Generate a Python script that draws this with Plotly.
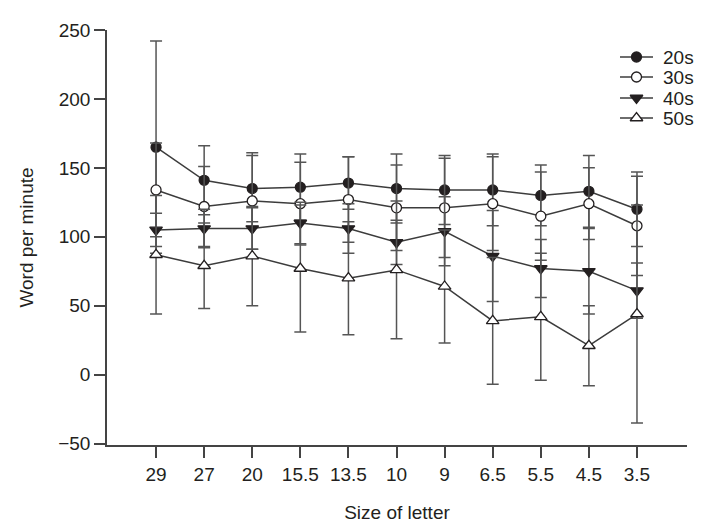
import plotly.graph_objects as go

categories = ["29", "27", "20", "15.5", "13.5", "10", "9", "6.5", "5.5", "4.5", "3.5"]
series_names = ["20s", "30s", "40s", "50s"]

mean_20s = [165, 141, 135, 136, 139, 135, 134, 134, 130, 133, 120]
sd_20s = [77, 25, 24, 24, 19, 25, 25, 26, 22, 26, 27]
mean_30s = [134, 122, 126, 124, 127, 121, 121, 124, 115, 124, 108]
sd_30s = [34, 29, 35, 30, 31, 31, 36, 34, 32, 26, 36]
mean_40s = [105, 106, 106, 110, 106, 96, 104, 86, 77, 75, 61]
sd_40s = [12, 14, 15, 15, 18, 16, 25, 33, 21, 31, 20]
mean_50s = [87, 79, 86, 77, 70, 76, 64, 39, 42, 21, 44]
sd_50s = [43, 31, 36, 46, 41, 50, 41, 46, 46, 29, 79]

y_ticks = [-50, 0, 50, 100, 150, 200, 250]

dark = "#231f20"
line_col = "#3c3c3c"
err_col = "#555555"
axis_col = "#444444"
font_family = "Liberation Sans, Arial, sans-serif"
FS = 19

styles = [
    dict(symbol="circle", color=dark, size=10),
    dict(symbol="circle", color="white", size=10),
    dict(symbol="triangle-down", color=dark, size=11),
    dict(symbol="triangle-up", color="white", size=11),
]
means = [mean_20s, mean_30s, mean_40s, mean_50s]
sds = [sd_20s, sd_30s, sd_40s, sd_50s]

fig = go.Figure()
for name, m, s, st in zip(series_names, means, sds, styles):
    fig.add_trace(go.Scatter(
        x=categories, y=m, name=name, mode="lines+markers", showlegend=False,
        line=dict(color=line_col, width=1.5),
        marker=dict(symbol=st["symbol"], size=st["size"], color=st["color"],
                    line=dict(color=dark, width=1.3)),
        error_y=dict(type="data", array=s, visible=True, color=err_col,
                     thickness=1.5, width=6),
    ))

# page body has an 8px default margin; compensate so the page matches 713x531
PAGE_W, PAGE_H, BODY = 713, 531, 8
plot_left, plot_right, plot_top, plot_bottom = 107, 687, 30, 445  # page pixels

# Legend drawn in a pixel-space overlay axis so its row spacing matches
leg_line = (620, 653)
leg_mark_x = 636.5
leg_text_x = 661
leg_rows = [57, 77, 98, 118]
annotations = []
for name, st, ry in zip(series_names, styles, leg_rows):
    fig.add_trace(go.Scatter(
        x=list(leg_line), y=[ry, ry], mode="lines", xaxis="x2", yaxis="y2",
        line=dict(color=line_col, width=1.5), showlegend=False, hoverinfo="skip"))
    fig.add_trace(go.Scatter(
        x=[leg_mark_x], y=[ry], mode="markers", xaxis="x2", yaxis="y2",
        marker=dict(symbol=st["symbol"], size=st["size"], color=st["color"],
                    line=dict(color=dark, width=1.3)),
        showlegend=False, hoverinfo="skip"))
    annotations.append(dict(x=leg_text_x, y=ry, xref="x2", yref="y2", text=name,
                            showarrow=False, xanchor="left", yanchor="middle",
                            font=dict(size=FS, color=dark, family=font_family)))

fig.update_layout(
    width=PAGE_W - BODY, height=PAGE_H - BODY,
    margin=dict(l=plot_left - BODY, r=PAGE_W - plot_right,
                t=plot_top - BODY, b=PAGE_H - plot_bottom, pad=0),
    plot_bgcolor="white", paper_bgcolor="white",
    font=dict(family=font_family, size=FS, color=dark),
    showlegend=False,
    annotations=annotations,
    xaxis=dict(
        type="category", range=[-1.02, 11.04], automargin=False,
        showline=True, linecolor=axis_col, linewidth=1.5,
        ticks="outside", ticklen=11, tickcolor=axis_col, tickwidth=1.5,
        showgrid=False, zeroline=False,
        title=dict(text="Size of letter", font=dict(size=FS), standoff=22),
        tickfont=dict(size=FS),
    ),
    yaxis=dict(
        range=[-51, 250], tickvals=y_ticks, automargin=False,
        showline=True, linecolor=axis_col, linewidth=1.5,
        ticks="outside", ticklen=11, tickcolor=axis_col, tickwidth=1.5,
        showgrid=False, zeroline=False,
        title=dict(text="Word per minute", font=dict(size=FS), standoff=20),
        tickfont=dict(size=FS),
    ),
    xaxis2=dict(overlaying="x", anchor="y2", range=[plot_left, plot_right],
                visible=False, fixedrange=True),
    yaxis2=dict(overlaying="y", anchor="x2", range=[plot_bottom, plot_top],
                visible=False, fixedrange=True),
)

fig.write_html("out.html")
